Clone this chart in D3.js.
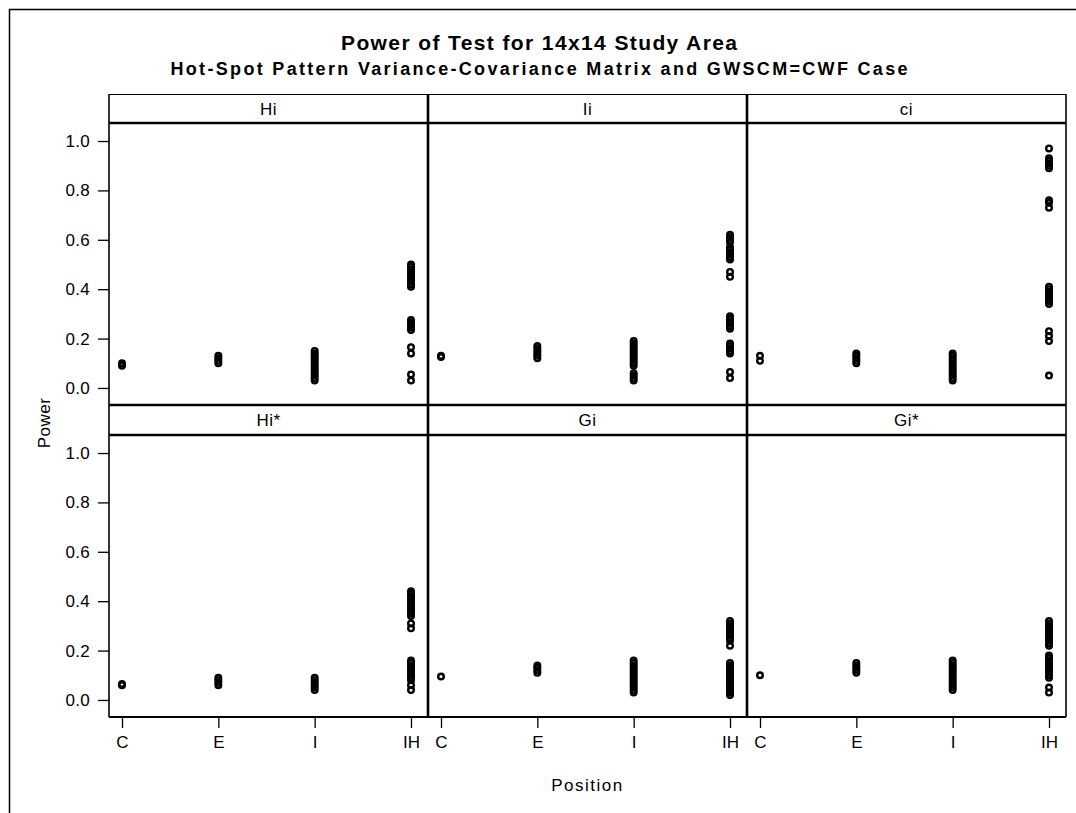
<!DOCTYPE html>
<html>
<head>
<meta charset="utf-8">
<script src="https://cdn.jsdelivr.net/npm/d3@7"></script>
<style>
  html, body { margin: 0; padding: 0; background: #fff; }
  svg text { font-family: "Liberation Sans", Arial, sans-serif; fill: #000; }
</style>
</head>
<body>
<svg id="chart" width="1076" height="813"></svg>
<script>
// Study positions along the x axis of every panel
const positions = ["C", "E", "I", "IH"];
// Panel statistics, top row then bottom row
const statistics = ["Hi", "Ii", "ci", "Hi*", "Gi", "Gi*"];
const yTicks = [0.0, 0.2, 0.4, 0.6, 0.8, 1.0];

// Power values per position (C, E, I, IH) for each statistic
const powerHi = [
  [0.09, 0.10],
  [0.10, 0.11, 0.12, 0.13],
  [0.03, 0.04, 0.05, 0.06, 0.07, 0.08, 0.09, 0.10, 0.11, 0.12, 0.13, 0.14, 0.15],
  [0.03, 0.055, 0.14, 0.165, 0.235, 0.245, 0.255, 0.265, 0.275,
   0.41, 0.42, 0.43, 0.44, 0.45, 0.46, 0.47, 0.48, 0.49, 0.50]
];
const powerIi = [
  [0.125, 0.13],
  [0.12, 0.13, 0.14, 0.15, 0.16, 0.17],
  [0.03, 0.04, 0.05, 0.06, 0.09, 0.10, 0.11, 0.12, 0.13, 0.14, 0.15, 0.16, 0.17, 0.18, 0.19],
  [0.04, 0.065, 0.14, 0.15, 0.16, 0.17, 0.18, 0.24, 0.25, 0.26, 0.27, 0.28, 0.29,
   0.45, 0.47, 0.52, 0.53, 0.54, 0.55, 0.56, 0.57, 0.59, 0.60, 0.61, 0.62]
];
const powerCi = [
  [0.11, 0.13],
  [0.10, 0.11, 0.12, 0.13, 0.14],
  [0.03, 0.04, 0.05, 0.06, 0.07, 0.08, 0.09, 0.10, 0.11, 0.12, 0.13, 0.14],
  [0.05, 0.19, 0.21, 0.23, 0.34, 0.35, 0.36, 0.37, 0.38, 0.39, 0.40, 0.41,
   0.73, 0.75, 0.76, 0.89, 0.90, 0.91, 0.92, 0.93, 0.97]
];
const powerHiStar = [
  [0.06, 0.065],
  [0.06, 0.07, 0.08, 0.09],
  [0.04, 0.05, 0.06, 0.07, 0.08, 0.09],
  [0.04, 0.06, 0.08, 0.09, 0.10, 0.11, 0.12, 0.13, 0.14, 0.15, 0.16, 0.29, 0.31,
   0.34, 0.35, 0.36, 0.37, 0.38, 0.39, 0.40, 0.41, 0.42, 0.43, 0.44]
];
const powerGi = [
  [0.095],
  [0.11, 0.12, 0.13, 0.14],
  [0.03, 0.04, 0.05, 0.06, 0.07, 0.08, 0.09, 0.10, 0.11, 0.12, 0.13, 0.14, 0.15, 0.16],
  [0.02, 0.03, 0.04, 0.05, 0.06, 0.07, 0.08, 0.09, 0.10, 0.11, 0.12, 0.13, 0.14, 0.15,
   0.22, 0.24, 0.25, 0.26, 0.27, 0.28, 0.29, 0.30, 0.31, 0.32]
];
const powerGiStar = [
  [0.10],
  [0.11, 0.12, 0.13, 0.14, 0.15],
  [0.04, 0.05, 0.06, 0.07, 0.08, 0.09, 0.10, 0.11, 0.12, 0.13, 0.14, 0.15, 0.16],
  [0.03, 0.05, 0.09, 0.10, 0.11, 0.12, 0.13, 0.14, 0.15, 0.16, 0.17, 0.18,
   0.22, 0.23, 0.24, 0.25, 0.26, 0.27, 0.28, 0.29, 0.30, 0.31, 0.32]
];
const panelValues = [powerHi, powerIi, powerCi, powerHiStar, powerGi, powerGiStar];

const svg = d3.select("#chart");
const FONT = '"Liberation Sans", Arial, sans-serif';

// Page frame
svg.append("rect")
  .attr("x", 9.5).attr("y", 9.5).attr("width", 1100).attr("height", 830)
  .attr("fill", "none").attr("stroke", "#000").attr("stroke-width", 1.5);

// Titles
svg.append("text")
  .attr("x", 539).attr("y", 50).attr("text-anchor", "middle")
  .attr("font-size", 21).attr("font-weight", "bold")
  .attr("textLength", 396).attr("lengthAdjust", "spacing")
  .text("Power of Test for 14x14 Study Area");
svg.append("text")
  .attr("x", 539).attr("y", 75).attr("text-anchor", "middle")
  .attr("font-size", 18).attr("font-weight", "bold")
  .attr("textLength", 737).attr("lengthAdjust", "spacing")
  .text("Hot-Spot Pattern Variance-Covariance Matrix and GWSCM=CWF Case");

// Lattice geometry
const gridLeft = 109, panelW = 319, cols = 3;
const headerTop = [94, 405], headerH = [29, 30], plotH = 282;
const plotTop = [123, 435];
const gridBottom = plotTop[1] + plotH;

const x = d3.scalePoint().domain(positions).range([13, 302]);
const y = d3.scaleLinear().domain([-0.069, 1.073]).range([plotH, 0]);

statistics.forEach((stat, i) => {
  const row = Math.floor(i / cols), col = i % cols;
  const px = gridLeft + col * panelW;
  const g = svg.append("g").attr("transform", `translate(${px},${plotTop[row]})`);

  // header label
  svg.append("text")
    .attr("x", px + panelW / 2).attr("y", headerTop[row] + headerH[row] / 2 + 6)
    .attr("text-anchor", "middle").attr("font-size", 17)
    .attr("letter-spacing", 0.5)
    .text(stat);

  // markers
  panelValues[i].forEach((vals, k) => {
    g.selectAll(null).data(vals).enter().append("circle")
      .attr("cx", x(positions[k]))
      .attr("cy", d => y(d))
      .attr("r", 2.8)
      .attr("fill", "none")
      .attr("stroke", "#000")
      .attr("stroke-width", 2.4);
  });

  // y axis on the first column
  if (col === 0) {
    const ya = d3.axisLeft(y).tickValues(yTicks).tickFormat(d3.format(".1f"))
      .tickSize(11).tickPadding(8);
    const ag = g.append("g").call(ya);
    ag.select(".domain").remove();
    ag.selectAll("line").attr("stroke", "#000").attr("stroke-width", 1.3);
    ag.selectAll("text").attr("font-size", 17).attr("fill", "#000")
      .attr("letter-spacing", 0.3).style("font-family", FONT);
  }
  // x axis on the bottom row
  if (row === 1) {
    const xa = d3.axisBottom(x).tickSize(11).tickPadding(8);
    const ag = g.append("g").attr("transform", `translate(0,${plotH})`).call(xa);
    ag.select(".domain").remove();
    ag.selectAll("line").attr("stroke", "#000").attr("stroke-width", 1.3);
    ag.selectAll("text").attr("font-size", 17).attr("fill", "#000")
      .style("font-family", FONT);
  }
});

// Lattice lines
const gridRight = gridLeft + cols * panelW;
const lines = svg.append("g").attr("stroke", "#000").attr("fill", "none");
// header tops (thin)
lines.append("line").attr("x1", gridLeft).attr("x2", gridRight)
  .attr("y1", headerTop[0] + 0.5).attr("y2", headerTop[0] + 0.5).attr("stroke-width", 1.2);
// header / plot separators and row separator (thick)
[plotTop[0], headerTop[1], plotTop[1]].forEach(yy => {
  lines.append("line").attr("x1", gridLeft).attr("x2", gridRight)
    .attr("y1", yy).attr("y2", yy).attr("stroke-width", 2.6);
});
// bottom edge
lines.append("line").attr("x1", gridLeft).attr("x2", gridRight)
  .attr("y1", gridBottom).attr("y2", gridBottom).attr("stroke-width", 2);
// outer vertical edges
[gridLeft, gridRight].forEach(xx => {
  lines.append("line").attr("x1", xx).attr("x2", xx)
    .attr("y1", headerTop[0]).attr("y2", gridBottom).attr("stroke-width", 1.6);
});
// column dividers (thick)
for (let c = 1; c < cols; c++) {
  const xx = gridLeft + c * panelW;
  lines.append("line").attr("x1", xx).attr("x2", xx)
    .attr("y1", headerTop[0]).attr("y2", gridBottom).attr("stroke-width", 2.6);
}

// Axis titles
svg.append("text")
  .attr("transform", `translate(50,${(plotTop[0] + gridBottom) / 2 + 3}) rotate(-90)`)
  .attr("text-anchor", "middle").attr("font-size", 17).attr("letter-spacing", 0.5)
  .text("Power");
svg.append("text")
  .attr("x", gridLeft + cols * panelW / 2).attr("y", 791)
  .attr("text-anchor", "middle").attr("font-size", 17).attr("letter-spacing", 1.5)
  .text("Position");
</script>
</body>
</html>
